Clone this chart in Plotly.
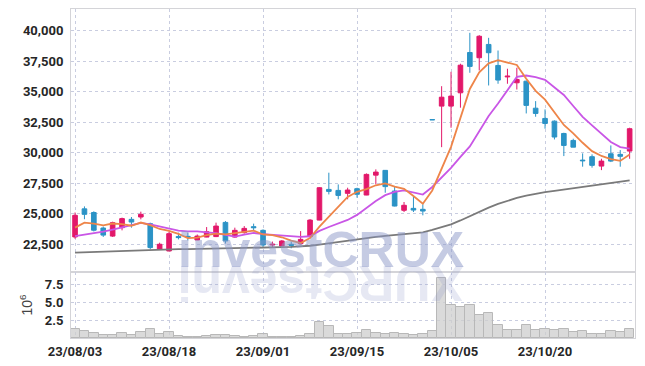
import plotly.graph_objects as go
from plotly.subplots import make_subplots

dates = [
    "23/08/03", "23/08/04", "23/08/07", "23/08/08", "23/08/09", "23/08/10", "23/08/11", "23/08/14",
    "23/08/16", "23/08/17", "23/08/18", "23/08/21", "23/08/22", "23/08/23", "23/08/24", "23/08/25",
    "23/08/28", "23/08/29", "23/08/30", "23/08/31", "23/09/01", "23/09/04", "23/09/05", "23/09/06",
    "23/09/07", "23/09/08", "23/09/11", "23/09/12", "23/09/13", "23/09/14", "23/09/15", "23/09/18",
    "23/09/19", "23/09/20", "23/09/21", "23/09/22", "23/09/25", "23/09/26", "23/09/27", "23/10/04",
    "23/10/05", "23/10/06", "23/10/10", "23/10/11", "23/10/12", "23/10/13", "23/10/16", "23/10/17",
    "23/10/18", "23/10/19", "23/10/20", "23/10/23", "23/10/24", "23/10/25", "23/10/26", "23/10/27",
    "23/10/30", "23/10/31", "23/11/01", "23/11/02",
]

opens = [
    23100, 25400, 25100, 23830, 23170, 23860, 24540, 24730, 24190, 22090,
    21950, 23130, 23150, 22850, 23090, 23130, 24290, 23090, 23450, 23940,
    23640, 22440, 22360, 22500, 22550, 23130, 24480, 26990, 26910, 26670,
    27050, 26530, 28160, 28550, 26860, 25280, 25440, 25360, 32710, 33810,
    33810, 34900, 38200, 37770, 38860, 37140, 36200, 35720, 35850, 33640,
    32800, 32580, 31570, 31000, 29390, 29670, 28900, 29910, 29860, 30130,
]
highs = [
    25100, 25600, 25200, 23950, 24350, 24680, 24730, 25170, 24270, 22630,
    23530, 23450, 23450, 23300, 23910, 24270, 24400, 23860, 23990, 24190,
    23720, 22720, 22850, 22720, 23580, 24560, 27180, 28360, 27400, 27130,
    27130, 28300, 28630, 28570, 27215, 25960, 26450, 25770, 32710, 35440,
    36620, 37280, 39810, 39620, 39400, 38360, 36870, 36950, 35900, 34220,
    33540, 32640, 31630, 31140, 29940, 29860, 29500, 30590, 30210, 32040,
]
lows = [
    22950, 24550, 23550, 23100, 23100, 23640, 23860, 24540, 22090, 22080,
    21940, 22900, 22820, 22840, 23080, 23090, 22560, 23040, 23370, 23580,
    22270, 22230, 22350, 22170, 22490, 23120, 24470, 26580, 26180, 26180,
    26310, 26520, 27400, 26720, 25600, 25140, 25140, 24870, 32690, 30450,
    32040, 33680, 36540, 36730, 35500, 35640, 35640, 35170, 33210, 32940,
    31960, 31080, 29720, 30450, 28850, 28770, 28570, 29230, 28850, 29500,
]
closes = [
    24870, 24950, 23650, 23250, 24270, 24600, 24320, 24950, 22230, 22500,
    23370, 23050, 23080, 23170, 23530, 23990, 22770, 23640, 23800, 23860,
    22440, 22500, 22770, 22410, 22900, 24480, 27130, 26830, 26500, 26940,
    26590, 28220, 28410, 27220, 25630, 25690, 25300, 25220, 32690, 34540,
    34630, 37160, 37060, 39530, 38180, 35940, 36260, 35990, 33870, 33210,
    32390, 31280, 30590, 30450, 29340, 28960, 29310, 29310, 29700, 31960,
]

# volume in millions of shares
volume_m = [
    1.20, 0.93, 0.75, 0.47, 0.47, 0.65, 0.47, 0.83, 1.20, 0.56,
    0.83, 0.30, 0.20, 0.20, 0.25, 0.45, 0.45, 0.25, 0.20, 0.30,
    0.55, 0.20, 0.15, 0.20, 0.30, 0.58, 2.25, 1.64, 0.62, 0.62,
    0.72, 1.18, 0.72, 0.62, 0.72, 0.49, 0.45, 0.49, 1.04, 8.36,
    4.65, 4.33, 4.65, 3.26, 3.50, 1.88, 1.18, 1.18, 1.88, 1.18,
    1.32, 1.18, 1.32, 0.80, 1.00, 0.62, 0.62, 1.00, 0.90, 1.28,
]

ma5 = [
    23860, 24270, 24190, 24050, 24200, 24144, 24018, 24278, 24074, 23750,
    23600, 23350, 23000, 23050, 23240, 23364, 23308, 23420, 23546, 23612,
    23302, 23248, 23074, 22796, 22604, 23012, 23938, 24750, 25568, 26376,
    26798, 27016, 27332, 27476, 27214, 27034, 26450, 25812, 26906, 28688,
    30476, 32848, 35216, 36584, 37312, 37574, 37394, 37180, 36048, 35054,
    34344, 33348, 32268, 31584, 30810, 30124, 29730, 29474, 29324, 29848,
]
ma10 = [
    23170, 23280, 23400, 23530, 23700, 23870, 24030, 24250, 24130, 23959,
    23809, 23619, 23562, 23554, 23480, 23419, 23264, 23133, 23290, 23426,
    23333, 23278, 23247, 23171, 23108, 23157, 23593, 23912, 24182, 24490,
    24905, 25477, 26041, 26522, 26795, 26916, 26733, 26572, 27191, 27952,
    28756, 29650, 30515, 31746, 33001, 34026, 35122, 36199, 36316, 36183,
    35959, 35371, 34724, 33816, 32932, 32234, 31539, 30871, 30454, 30329,
]
ma_long = [
    21820, 21850, 21870, 21900, 21920, 21950, 21970, 22000, 22030, 22060,
    22090, 22100, 22110, 22120, 22130, 22140, 22150, 22165, 22190, 22210,
    22230, 22245, 22260, 22280, 22300, 22380, 22480, 22590, 22690, 22800,
    22900, 23000, 23100, 23180, 23250, 23320, 23370, 23480, 23670, 23900,
    24130, 24450, 24800, 25200, 25500, 25800, 26050, 26300, 26480, 26640,
    26770, 26880, 26990, 27100, 27200, 27300, 27400, 27500, 27600, 27730,
]

price_ticks = [22500, 25000, 27500, 30000, 32500, 35000, 37500, 40000]
volume_ticks = [2.5, 5.0, 7.5]
x_tick_labels = ["23/08/03", "23/08/18", "23/09/01", "23/09/15", "23/10/05", "23/10/20"]

UP = "#e2186a"
DOWN = "#2b93c6"
GRID = "#c9cde0"
FRAME = "#d4d4d8"
TICKFONT = dict(family="Roboto, Liberation Sans, Arial", size=13, color="#262626", weight="bold")

fig = make_subplots(rows=2, cols=1, shared_xaxes=True, vertical_spacing=0,
                    row_heights=[0.7994, 0.2006])

fig.add_trace(go.Candlestick(
    x=dates, open=opens, high=highs, low=lows, close=closes,
    increasing=dict(line=dict(color=UP, width=1), fillcolor=UP),
    decreasing=dict(line=dict(color=DOWN, width=1), fillcolor=DOWN),
    showlegend=False, hoverinfo="skip",
), row=1, col=1)

fig.add_trace(go.Scatter(x=dates, y=ma_long, mode="lines",
                         line=dict(color="#7a7a7a", width=1.8), showlegend=False, hoverinfo="skip"), row=1, col=1)
fig.add_trace(go.Scatter(x=dates, y=ma10, mode="lines",
                         line=dict(color="#c956e6", width=1.8), showlegend=False, hoverinfo="skip"), row=1, col=1)
fig.add_trace(go.Scatter(x=dates, y=ma5, mode="lines",
                         line=dict(color="#ee8549", width=1.8), showlegend=False, hoverinfo="skip"), row=1, col=1)

fig.add_trace(go.Bar(x=dates, y=volume_m,
                     marker=dict(color="rgba(205,205,205,0.75)", line=dict(color="#b8b8b8", width=1)),
                     showlegend=False, hoverinfo="skip"), row=2, col=1)

xaxis_common = dict(
    type="category", range=[-0.43, 59.57], showgrid=True, gridcolor=GRID, griddash="dot", gridwidth=1,
    tickmode="array", tickvals=x_tick_labels, ticktext=x_tick_labels,
    showline=True, linecolor=FRAME, linewidth=1, mirror=True, ticks="", zeroline=False,
    rangeslider=dict(visible=False), automargin=False,
)
fig.update_xaxes(**xaxis_common)
fig.update_xaxes(showticklabels=False, row=1, col=1)
fig.update_xaxes(showticklabels=True, tickfont=TICKFONT, ticklabelstandoff=1, row=2, col=1)

fig.update_yaxes(range=[20230, 41760], tickmode="array", tickvals=price_ticks, tickformat=",",
                 showgrid=True, gridcolor=GRID, griddash="dot", gridwidth=1,
                 showline=True, linecolor=FRAME, linewidth=1, mirror=True, ticks="",
                 zeroline=False, tickfont=TICKFONT, ticklabelstandoff=4, automargin=False,
                 row=1, col=1)
fig.update_yaxes(range=[0, 9.2], tickmode="array", tickvals=volume_ticks, tickformat=".1f",
                 showgrid=True, gridcolor=GRID, griddash="dot", gridwidth=1,
                 showline=True, linecolor=FRAME, linewidth=1, mirror=True, ticks="",
                 zeroline=False, tickfont=TICKFONT, ticklabelstandoff=4, automargin=False,
                 title=dict(text="10<sup>6</sup>", font=dict(family="Liberation Sans, Arial", size=14, color="#444"),
                            standoff=8),
                 row=2, col=1)

fig.add_annotation(text="investCRUX", xref="paper", yref="paper", x=0.443, y=0.175,
                   xanchor="center", yanchor="bottom", showarrow=False,
                   font=dict(family="Liberation Sans, Arial", size=50, color="rgba(140,152,200,0.5)", weight="bold"))
fig.add_annotation(text="XURCtsevni", xref="paper", yref="paper", x=0.443, y=0.258,
                   xanchor="center", yanchor="top", showarrow=False, textangle=180,
                   font=dict(family="Liberation Sans, Arial", size=50, color="rgba(140,152,200,0.22)", weight="bold"))

# the page body keeps the browser's default 8px margin, so the figure is sized to fit inside it
fig.update_layout(
    width=629, height=350,
    margin=dict(l=63, r=2, t=1, b=20),
    paper_bgcolor="white", plot_bgcolor="white",
    showlegend=False, hovermode=False,
    bargap=0.0,
)

fig.write_html("out.html")
